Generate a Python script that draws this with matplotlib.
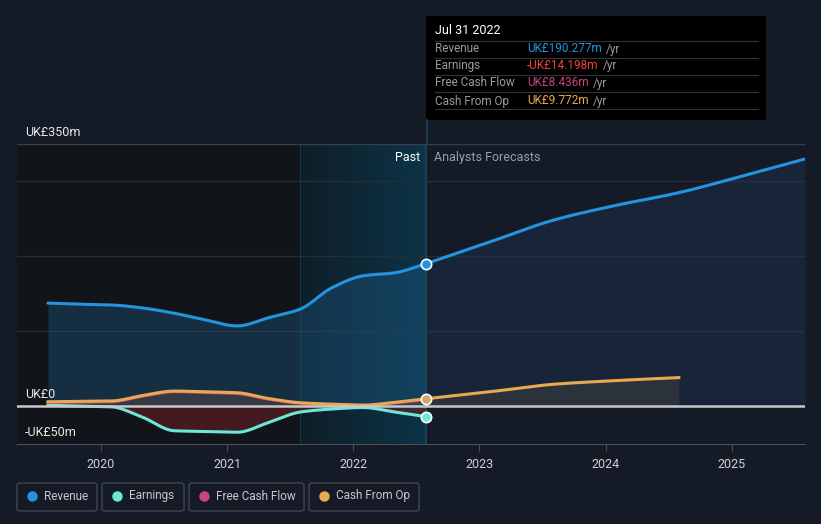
import numpy as np
import matplotlib
matplotlib.use("Agg")
import matplotlib.pyplot as plt
from matplotlib.patches import FancyBboxPatch, Rectangle
from matplotlib.lines import Line2D

plt.rcParams['font.family'] = ['Roboto', 'DejaVu Sans']

# data (UK£m), x in decimal years
past_x = [2019.58, 2019.83, 2020.08, 2020.33, 2020.58, 2020.83, 2021.08, 2021.33, 2021.58, 2021.83, 2022.08, 2022.33, 2022.58]
revenue_past = [137.5, 136, 135, 131, 124, 115, 107, 118, 129.5, 158, 174, 178, 190.277]
earnings_past = [1, 0, -1, -15, -33, -34, -35, -22, -8, -4, -2, -8, -14.198]
cfo_past = [5.7, 6.2, 6.7, 14, 20, 19, 17.8, 10, 4.4, 2.5, 1.3, 5, 9.772]
fcf_past = [4.5, 5, 5.5, 13, 19, 18, 16.5, 9, 3.5, 1.5, 0.5, 4, 8.436]

fc_x = [2022.58, 2023.08, 2023.58, 2024.08, 2024.58, 2025.08, 2025.58]
revenue_fc = [190.277, 219, 248, 268, 285, 307, 330]
cfo_fc_x = [2022.58, 2023.08, 2023.58, 2024.08, 2024.58]
cfo_fc = [9.772, 19, 29, 34, 38]

years = [2020, 2021, 2022, 2023, 2024, 2025]
gridvals = [100, 200, 300]

BG = '#151b26'
C_REV = '#2394df'
C_EARN = '#6ee7d6'
C_FCF = '#c5467f'
C_CFO = '#e8a951'


def smooth(x, y, n=300):
    # monotone cubic (pchip-like) for display
    x = np.asarray(x, float); y = np.asarray(y, float)
    h = np.diff(x); d = np.diff(y) / h
    m = np.zeros_like(y)
    m[0], m[-1] = d[0], d[-1]
    for i in range(1, len(y) - 1):
        if d[i-1] * d[i] <= 0:
            m[i] = 0
        else:
            w1 = 2*h[i] + h[i-1]; w2 = h[i] + 2*h[i-1]
            m[i] = (w1 + w2) / (w1/d[i-1] + w2/d[i])
    xs = np.linspace(x[0], x[-1], n)
    idx = np.clip(np.searchsorted(x, xs) - 1, 0, len(x) - 2)
    t = (xs - x[idx]) / h[idx]
    h00 = 2*t**3 - 3*t**2 + 1; h10 = t**3 - 2*t**2 + t
    h01 = -2*t**3 + 3*t**2; h11 = t**3 - t**2
    ys = h00*y[idx] + h10*h[idx]*m[idx] + h01*y[idx+1] + h11*h[idx]*m[idx+1]
    return xs, ys


fig = plt.figure(figsize=(8.21, 5.24), dpi=100)
fig.patch.set_facecolor(BG)
W, H = 821, 524
ax = fig.add_axes([17/W, (H-444)/H, (805-17)/W, 300/H])
ax.set_facecolor(BG)
x0, x1 = 2019.335, 2025.58
ylo, yhi = -50.7, 350
ax.set_xlim(x0, x1)
ax.set_ylim(ylo, yhi)

# past shading
ax.axvspan(x0, 2021.58, color='#111419', zorder=0, lw=0)
grad = np.linspace(0, 1, 256).reshape(1, -1)
cmap = matplotlib.colors.LinearSegmentedColormap.from_list('t', ['#0f1e27', '#0c3447'])
ax.imshow(grad, extent=[2021.58, 2022.58, ylo, yhi], aspect='auto', cmap=cmap, zorder=0.5)
ax.axvline(2021.58, color='#1a3540', lw=0.8, zorder=0.6)

for g in gridvals:
    ax.axhline(g, color='#262d38', lw=1, zorder=1)
ax.axhline(350, color='#3a404a', lw=1, zorder=1)

# revenue
rx, ry = smooth(past_x, revenue_past)
fx, fy = smooth(fc_x, revenue_fc)
ax.fill_between(rx, 0, ry, color='#1f5f8f', alpha=0.35, lw=0, zorder=2)
ax.fill_between(fx, 0, fy, color='#1e3a5a', alpha=0.35, lw=0, zorder=2)
ax.plot(rx, ry, color=C_REV, lw=2.2, zorder=5, solid_capstyle='round')
ax.plot(fx, fy, color=C_REV, lw=2.2, zorder=5, solid_capstyle='round')

# earnings
ex, ey = smooth(past_x, earnings_past)
ax.fill_between(ex, 0, ey, where=ey < 0, color='#6b1f26', alpha=0.55, lw=0, zorder=2)
ax.plot(ex, ey, color=C_EARN, lw=2.2, zorder=6)

# cash from op / fcf
cx, cy = smooth(past_x, cfo_past)
px_, py_ = smooth(past_x, fcf_past)
ax.fill_between(cx, 0, cy, color='#5a4a45', alpha=0.45, lw=0, zorder=2)
cfx, cfy = smooth(cfo_fc_x, cfo_fc)
ax.fill_between(cfx, 0, cfy, color='#3a3c40', alpha=0.6, lw=0, zorder=2)
ax.plot(px_, py_, color=C_FCF, lw=2, zorder=6)
ax.plot(cx, cy, color=C_CFO, lw=2.2, zorder=7)
ax.plot(cfx, cfy, color=C_CFO, lw=2.2, zorder=7)

# zero line
ax.axhline(0, color='#c8c8c8', lw=1.8, zorder=8)

# markers at last reported point
for v, c in [(revenue_past[-1], C_REV), (cfo_past[-1], '#d2a666'), (earnings_past[-1], C_EARN)]:
    ax.scatter([past_x[-1]], [v], s=55, color=c, edgecolor='white', lw=1.2, zorder=10)

ax.axvline(2022.58, color='#1c4556', lw=1.2, zorder=3)

for s in ['top', 'left', 'right']:
    ax.spines[s].set_visible(False)
ax.spines['bottom'].set_color('#4a505a')
ax.set_yticks([])
ax.set_xticks(years)
ax.set_xticklabels([str(y) for y in years], color='#d0d0d0', fontsize=9)
ax.tick_params(axis='x', length=5, color='#4a505a', pad=5)

ax.text(2022.53, 332, 'Past', color='#ffffff', fontsize=9, ha='right', va='center', zorder=12)
ax.text(2022.64, 332, 'Analysts Forecasts', color='#9a9ea6', fontsize=9, ha='left', va='center', zorder=12)

# y labels
fig.text(25/W, 1-132/H, 'UK£350m', color='#e8e8e8', fontsize=9, va='center')
fig.text(25/W, 1-395/H, 'UK£0', color='#e8e8e8', fontsize=9, va='center')
fig.text(25/W, 1-432/H, '-UK£50m', color='#e8e8e8', fontsize=9, va='center')

# connector line to tooltip
fig.add_artist(Line2D([427/W, 427/W], [1-144/H, 1-120/H], color='#1c4556', lw=1.2))

# tooltip
fig.add_artist(Rectangle((426/W, 1-120/H), 340/W, 104/H, facecolor='#000000', edgecolor='none'))
fig.text(435/W, 1-31/H, 'Jul 31 2022', color='#ffffff', fontsize=9, va='center')
for yy in [41, 58, 75, 92, 109]:
    fig.add_artist(Line2D([435/W, 758/W], [1-yy/H, 1-yy/H], color='#333333', lw=0.8))
rows = [('Revenue', 'UK£190.277m', C_REV), ('Earnings', '-UK£14.198m', '#f0443a'),
        ('Free Cash Flow', 'UK£8.436m', C_FCF), ('Cash From Op', 'UK£9.772m', C_CFO)]
row_y = [49, 66, 83, 101]
fig.canvas.draw()
r = fig.canvas.get_renderer()
for (lab, val, c), yy in zip(rows, row_y):
    fig.text(435/W, 1-yy/H, lab, color='#9a9a9a', fontsize=8.5, va='center')
    t = fig.text(527/W, 1-yy/H, val, color=c, fontsize=8.5, va='center')
    bb = t.get_window_extent(renderer=r)
    fig.text((bb.x1 + 4)/W, 1-yy/H, '/yr', color='#9a9a9a', fontsize=8.5, va='center')

# legend
items = [('Revenue', C_REV, 17, 97), ('Earnings', C_EARN, 102, 184),
         ('Free Cash Flow', C_FCF, 189, 304), ('Cash From Op', C_CFO, 309, 419)]
for lab, c, xa, xb in items:
    fig.add_artist(FancyBboxPatch((xa/W, 1-511/H), (xb-xa)/W, 28/H,
                                  boxstyle='round,pad=0,rounding_size=0.004',
                                  facecolor='none', edgecolor='#41464f', lw=1))
    fig.add_artist(Line2D([(xa+15)/W], [1-496/H], marker='o', markersize=6.5,
                          color=c, lw=0))
    fig.text((xa+27)/W, 1-496/H, lab, color='#c8c8c8', fontsize=8.5, va='center')

fig.savefig('out.png', dpi=100, facecolor=BG)
